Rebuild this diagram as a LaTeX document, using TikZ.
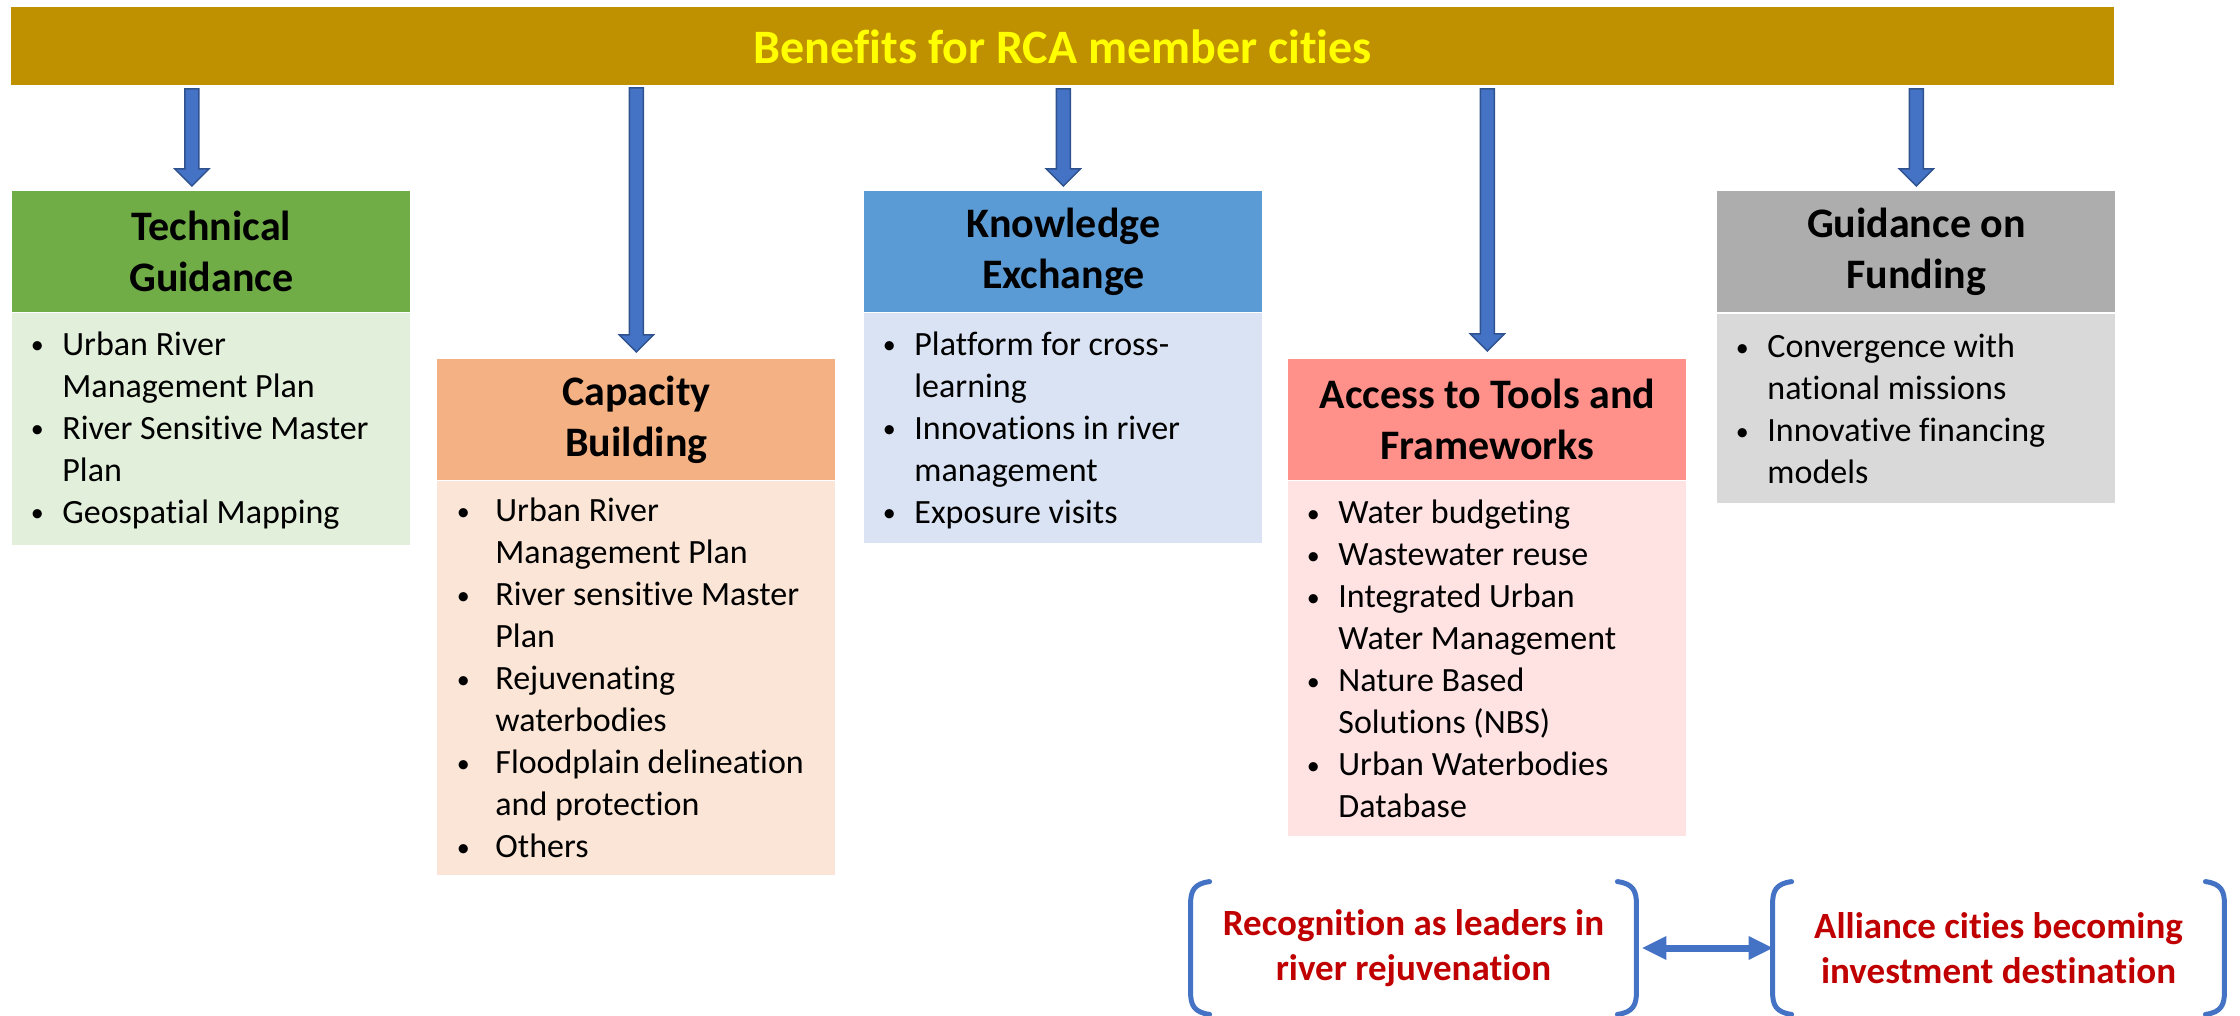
\documentclass[tikz,border=0pt]{standalone}
\usepackage{fontspec}
\setmainfont{Carlito}[Ligatures=NoCommon]
\usetikzlibrary{calc,arrows.meta}
\definecolor{bannergold}{HTML}{BF9000}
\definecolor{titleyellow}{HTML}{FFFF00}
\definecolor{tgh}{HTML}{70AD47}
\definecolor{tgb}{HTML}{E2EFDA}
\definecolor{cbh}{HTML}{F4B183}
\definecolor{cbb}{HTML}{FBE5D6}
\definecolor{keh}{HTML}{5B9BD5}
\definecolor{keb}{HTML}{DAE3F3}
\definecolor{ath}{HTML}{FF918A}
\definecolor{atb}{HTML}{FFE3E3}
\definecolor{gfh}{HTML}{ADADAD}
\definecolor{gfb}{HTML}{D9D9D9}
\definecolor{arrowblue}{HTML}{4472C4}
\definecolor{arrowdark}{HTML}{2F528F}
\definecolor{alertred}{HTML}{C00000}
\newlength\bulpos
\newlength\txtpos
\setlength\bulpos{12.5pt}
\setlength\txtpos{25pt}
\newcommand\bu{\makebox[\txtpos][l]{\hspace*{\bulpos}\makebox[0pt]{\raisebox{0.8pt}{\fontsize{13}{13}\selectfont\textbullet}}}}
\newcommand\ind{\hspace*{\txtpos}}
\newcommand\blockarrow[2]{\filldraw[barrowst] ($(#1)+(-7,0)$) -- ($(#2)+(-7,-17)$) -- ($(#2)+(-17,-17)$) -- (#2) -- ($(#2)+(17,-17)$) -- ($(#2)+(7,-17)$) -- ($(#1)+(7,0)$) -- cycle;}
\newcommand\bracketpair[1]{%
\draw[bracketline] ($(#1.north west)+(19,0)$) .. controls ($(#1.north west)+(3,2)$) and ($(#1.north west)+(0,10)$) .. ($(#1.north west)+(0,22)$) -- ($(#1.south west)+(0,-22)$) .. controls ($(#1.south west)+(0,-10)$) and ($(#1.south west)+(3,-2)$) .. ($(#1.south west)+(19,0)$);
\draw[bracketline] ($(#1.north east)+(-19,0)$) .. controls ($(#1.north east)+(-3,2)$) and ($(#1.north east)+(0,10)$) .. ($(#1.north east)+(0,22)$) -- ($(#1.south east)+(0,-22)$) .. controls ($(#1.south east)+(0,-10)$) and ($(#1.south east)+(-3,-2)$) .. ($(#1.south east)+(-19,0)$);}
\tikzset{
  hdr/.style={anchor=north west, inner sep=0pt, minimum width=199pt, minimum height=60.5pt, align=center, font=\fontsize{21}{25.5}\selectfont\bfseries},
  bodybox/.style={anchor=north west, inner sep=0pt, minimum width=199pt},
  bodytxt/.style={anchor=north west, inner sep=0pt, font=\fontsize{17}{21}\selectfont},
  barrowst/.style={fill=arrowblue, draw=arrowdark, line width=0.75pt, line join=miter},
  redtxt/.style={font=\fontsize{18.5}{22.5}\selectfont\bfseries, text=alertred, align=center, inner sep=0pt},
  bracketline/.style={draw=arrowblue, line width=2.5pt, line cap=round},
  darrow/.style={draw=arrowblue, line width=3.5pt, {Triangle[width=12pt,length=12pt,line width=0pt]}-{Triangle[width=12pt,length=12pt,line width=0pt]}}
}
\begin{document}
\begin{tikzpicture}[x=0.5pt,y=-0.5pt]
\useasboundingbox (0,0) rectangle (2240,1016);
\node[fill=bannergold, anchor=north west, inner sep=0pt, minimum width=1051.5pt, minimum height=39pt, font=\fontsize{24}{29}\selectfont\bfseries, text=titleyellow] (banner) at (11,7) {Benefits for RCA member cities};

% Technical Guidance
\node[hdr, fill=tgh] (tgH) at (12,191) {Technical\\Guidance};
\node[bodybox, fill=tgb, minimum height=116pt] (tgB) at (tgH.south west) {};
\node[bodytxt] (tgT) at ($(tgB.north west)+(0,13)$) {\begin{tabular}{@{}l@{}}
\bu Urban River\\ \ind Management Plan\\ \bu River Sensitive Master\\ \ind Plan\\ \bu Geospatial Mapping
\end{tabular}};

% Capacity Building
\node[hdr, fill=cbh] (cbH) at (437,359) {Capacity\\Building};
\node[bodybox, fill=cbb, minimum height=197pt] (cbB) at (cbH.south west) {};
\node[bodytxt] (cbT) at ($(cbB.north west)+(0,11)$) {\setlength\bulpos{13pt}\setlength\txtpos{29pt}\begin{tabular}{@{}l@{}}
\bu Urban River\\ \ind Management Plan\\ \bu River sensitive Master\\ \ind Plan\\ \bu Rejuvenating\\ \ind waterbodies\\ \bu Floodplain delineation\\ \ind and protection\\ \bu Others
\end{tabular}};

% Knowledge Exchange
\node[hdr, fill=keh] (keH) at (864,191) {Knowledge\\Exchange};
\node[bodybox, fill=keb, minimum height=115pt] (keB) at (keH.south west) {};
\node[bodytxt] (keT) at ($(keB.north west)+(0,13)$) {\begin{tabular}{@{}l@{}}
\bu Platform for cross-\\ \ind learning\\ \bu Innovations in river\\ \ind management\\ \bu Exposure visits
\end{tabular}};

% Access to Tools and Frameworks
\node[hdr, fill=ath] (atH) at (1288,359) {Access to Tools and\\Frameworks};
\node[bodybox, fill=atb, minimum height=177.5pt] (atB) at (atH.south west) {};
\node[bodytxt] (atT) at ($(atB.north west)+(0,13)$) {\begin{tabular}{@{}l@{}}
\bu Water budgeting\\ \bu Wastewater reuse\\ \bu Integrated Urban\\ \ind Water Management\\ \bu Nature Based\\ \ind Solutions (NBS)\\ \bu Urban Waterbodies\\ \ind Database
\end{tabular}};

% Guidance on Funding
\node[hdr, fill=gfh] (gfH) at (1717,191) {Guidance on\\Funding};
\node[bodybox, fill=gfb, minimum height=95pt] (gfB) at (gfH.south west) {};
\draw[white, line width=0.75pt] (gfH.south west) -- (gfH.south east);
\node[bodytxt] (gfT) at ($(gfB.north west)+(0,15)$) {\begin{tabular}{@{}l@{}}
\bu Convergence with\\ \ind national missions\\ \bu Innovative financing\\ \ind models
\end{tabular}};

% block arrows
\coordinate (t1) at ($(tgH.north)+(-19.5,-5)$);
\coordinate (t2) at ($(cbH.north)+(0,-7)$);
\coordinate (t3) at ($(keH.north)+(0,-5)$);
\coordinate (t4) at ($(atH.north)+(0,-8)$);
\coordinate (t5) at ($(gfH.north)+(0,-5)$);
\coordinate (s1) at ($(banner.south -| t1)+(0,3)$);
\coordinate (s2) at ($(banner.south -| t2)+(0,2)$);
\coordinate (s3) at ($(banner.south -| t3)+(0,3)$);
\coordinate (s4) at ($(banner.south -| t4)+(0,3)$);
\coordinate (s5) at ($(banner.south -| t5)+(0,3)$);
\blockarrow{s1}{t1}
\blockarrow{s2}{t2}
\blockarrow{s3}{t3}
\blockarrow{s4}{t4}
\blockarrow{s5}{t5}

% bottom
\node[redtxt, minimum width=222.5pt, minimum height=66pt] (rec) at (1413.5,948) {Recognition as leaders in\\river rejuvenation};
\node[redtxt, minimum width=225.5pt, minimum height=66pt] (all) at (1998.5,948) {Alliance cities becoming\\investment destination};
\bracketpair{rec}
\bracketpair{all}
\draw[darrow] ($(rec.east)+(6,0)$) -- (all.west);
\end{tikzpicture}
\end{document}
